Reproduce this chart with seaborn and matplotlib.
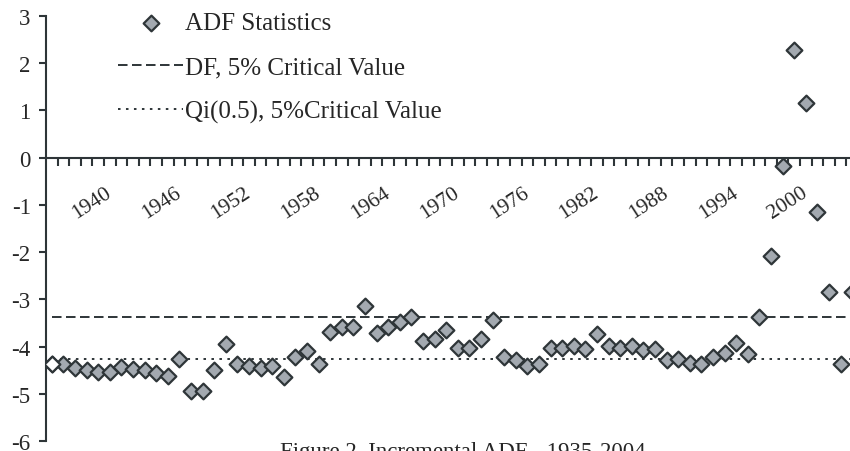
import numpy as np
import pandas as pd
import matplotlib
matplotlib.use("Agg")
import matplotlib.pyplot as plt
import seaborn as sns

# --- Data ---
years = list(range(1935, 2005))
adf_stat = [
    -4.36, -4.36, -4.46, -4.50, -4.53, -4.53, -4.44, -4.48, -4.50, -4.57,
    -4.62, -4.26, -4.94, -4.94, -4.50, -3.95, -4.36, -4.41, -4.46, -4.41,
    -4.65, -4.23, -4.09, -4.37, -3.69, -3.59, -3.59, -3.14, -3.72, -3.59,
    -3.47, -3.38, -3.88, -3.83, -3.64, -4.04, -4.04, -3.84, -3.43, -4.23,
    -4.28, -4.41, -4.36, -4.02, -4.02, -3.98, -4.05, -3.74, -3.98, -4.04,
    -3.98, -4.07, -4.05, -4.28, -4.26, -4.34, -4.37, -4.23, -4.14, -3.93,
    -4.16, -3.38, -2.08, -0.18, 2.27, 1.16, -1.14, -2.84, -4.37, -2.84,
]
df_cv = -3.38
qi_cv = -4.27
label_years = list(range(1940, 2001, 6))
y_ticks = list(range(-6, 4))

FILL = "#a3a9b0"
EDGE = "#2e3538"
TEXT = "#262626"


def set_style():
    sns.set_theme(style="ticks")
    plt.rcParams['font.family'] = ['Liberation Serif', 'DejaVu Serif']
    plt.rcParams['axes.unicode_minus'] = False
    plt.rcParams['text.color'] = TEXT
    plt.rcParams['xtick.color'] = EDGE
    plt.rcParams['ytick.color'] = EDGE
    plt.rcParams['xtick.labelcolor'] = TEXT
    plt.rcParams['ytick.labelcolor'] = TEXT


def main():
    set_style()
    df = pd.DataFrame({'year': years, 'adf': adf_stat})

    fig = plt.figure(figsize=(8.5, 4.52), dpi=100)
    # axes runs past the right edge, like the cropped original
    ax = fig.add_axes([46 / 850, 10 / 452, 812 / 850, 425 / 452])

    sns.lineplot(x=years, y=[df_cv] * len(years), color=EDGE, lw=1.4,
                 linestyle=(0, (4.9, 2.3)), label='DF, 5% Critical Value', ax=ax)
    sns.lineplot(x=years, y=[qi_cv] * len(years), color=EDGE, lw=1.4,
                 linestyle=(0, (1.3, 2.8)), label='Qi(0.5), 5%Critical Value', ax=ax)

    sns.scatterplot(data=df, x='year', y='adf', marker='D', s=64, color=FILL,
                    edgecolor=EDGE, linewidth=1.6, zorder=4, ax=ax,
                    label='ADF Statistics')
    # first observation is drawn hollow in the original
    sns.scatterplot(data=df.iloc[:1], x='year', y='adf', marker='D', s=64,
                    color='white', edgecolor=EDGE, linewidth=1.6, zorder=5,
                    ax=ax, legend=False)

    ax.set_xlim(1934.5, 2004.5)
    ax.set_ylim(-6, 3)
    ax.set_xlabel('')
    ax.set_ylabel('')

    for s in ['top', 'right']:
        ax.spines[s].set_visible(False)
    ax.spines['bottom'].set_position(('data', 0))
    for s in ['left', 'bottom']:
        ax.spines[s].set_color(EDGE)
        ax.spines[s].set_linewidth(1.5)

    ax.set_yticks(y_ticks)
    ax.tick_params(axis='y', length=5, width=1.5, pad=6, labelsize=16.5)

    ax.set_xticks(label_years)
    ax.set_xticklabels([str(y) for y in label_years], rotation=33,
                       ha='right', va='center', rotation_mode='anchor')
    ax.set_xticks([y + 0.5 for y in years[:-1]], minor=True)
    ax.tick_params(axis='x', which='major', length=0, pad=24, labelsize=15.5)
    ax.tick_params(axis='x', which='minor', length=6, width=1.5, direction='out')

    handles, labels = ax.get_legend_handles_labels()
    order = ['ADF Statistics', 'DF, 5% Critical Value', 'Qi(0.5), 5%Critical Value']
    hmap = dict(zip(labels, handles))
    ax.legend([hmap[l] for l in order], order, loc='upper left',
              bbox_to_anchor=(118 / 850, 1 - 13 / 452), bbox_transform=fig.transFigure,
              frameon=False, fontsize=18, handlelength=2.6, handletextpad=0.08,
              labelspacing=0.86, borderpad=0, borderaxespad=0, scatterpoints=1)

    fig.text(0.545, -0.013, 'Figure 2. Incremental ADF - 1935-2004',
             ha='center', va='baseline', fontsize=16.5)

    fig.savefig('out.png', dpi=100)
    plt.close(fig)


if __name__ == "__main__":
    main()
